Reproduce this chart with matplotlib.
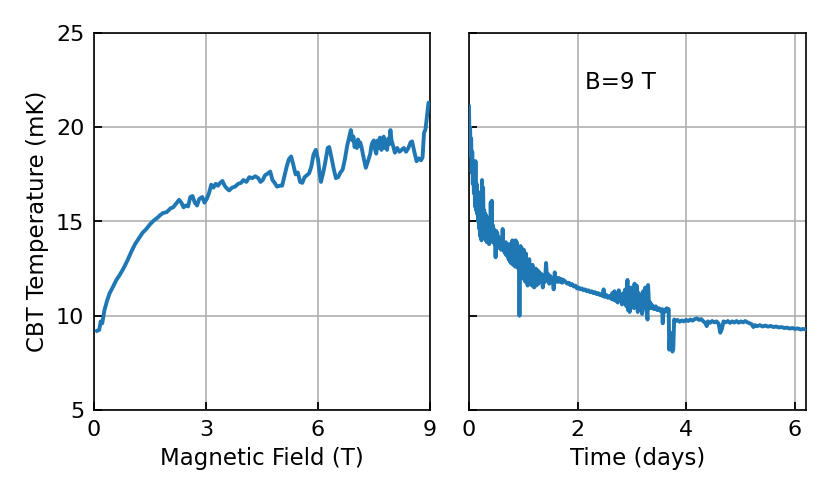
import matplotlib
matplotlib.use("Agg")
import matplotlib.pyplot as plt

# Left panel: CBT temperature vs magnetic field
field_T = [0.08, 0.14, 0.18, 0.22, 0.28, 0.35, 0.42, 0.5, 0.6, 0.7, 0.8, 0.9, 1.0, 1.1, 1.2, 1.3,
           1.4, 1.5, 1.6, 1.7, 1.78, 1.85, 1.95, 2.05, 2.12, 2.2, 2.28, 2.34, 2.4, 2.46, 2.52, 2.58,
           2.64, 2.7, 2.76, 2.82, 2.9, 2.96, 3.02, 3.08, 3.14, 3.2, 3.26, 3.32, 3.38, 3.44, 3.5,
           3.56, 3.62, 3.7, 3.78, 3.86, 3.94, 4.0, 4.08, 4.16, 4.24, 4.32, 4.4, 4.46, 4.52, 4.58,
           4.66, 4.72, 4.78, 4.84, 4.9, 4.98, 5.04, 5.1, 5.16, 5.22, 5.28, 5.34, 5.4, 5.46, 5.52,
           5.58, 5.64, 5.7, 5.76, 5.82, 5.88, 5.94, 6.0, 6.04, 6.08, 6.14, 6.2, 6.26, 6.3, 6.36,
           6.42, 6.48, 6.54, 6.6, 6.66, 6.72, 6.78, 6.84,
           6.88, 6.92, 6.95, 6.98, 7.01, 7.04, 7.07, 7.1, 7.13, 7.16, 7.22, 7.28,
           7.34, 7.4, 7.43, 7.46, 7.5, 7.53, 7.56, 7.6, 7.63, 7.66, 7.7, 7.73,
           7.76, 7.79, 7.82, 7.85, 7.88, 7.91, 7.94, 7.97, 8.0, 8.06, 8.12, 8.18,
           8.24, 8.3, 8.36, 8.42, 8.48, 8.52, 8.58, 8.64, 8.7, 8.76, 8.8, 8.84,
           8.88, 8.92, 8.96, 9.0]
temp_field_mK = [9.2, 9.25, 9.7, 9.6, 10.3, 10.8, 11.2, 11.5, 11.9, 12.2, 12.55, 12.95, 13.4, 13.8,
                 14.1, 14.4, 14.6, 14.85, 15.05, 15.2, 15.35, 15.45, 15.5, 15.7, 15.75, 15.95, 16.15,
                 16.0, 15.75, 15.85, 15.8, 16.3, 16.35, 16.0, 15.85, 16.2, 16.3, 16.0, 16.2, 16.5,
                 16.95, 16.8, 17.0, 16.9, 17.05, 17.15, 16.9, 16.75, 16.65, 16.8, 16.85, 17.0, 17.05,
                 17.2, 17.1, 17.35, 17.3, 17.4, 17.3, 17.1, 17.2, 17.45, 17.55, 17.65, 17.2, 17.05,
                 16.85, 16.9, 16.9, 17.4, 17.9, 18.3, 18.45, 18.0, 17.5, 17.6, 17.1, 17.05, 17.35,
                 17.45, 17.55, 17.9, 18.55, 18.8, 18.3, 17.6, 17.1, 17.6, 18.2, 18.9, 18.95, 18.4,
                 17.8, 17.3, 17.35, 17.6, 17.75, 18.3, 19.0, 19.5,
                 19.85, 19.3, 19.5, 18.95, 19.2, 18.9, 19.35, 19.0, 19.2, 19.0, 18.4, 17.85,
                 18.2, 18.6, 19.0, 19.2, 19.3, 18.8, 18.6, 19.3, 18.9, 19.45, 18.8, 19.1,
                 19.5, 18.9, 19.2, 18.8, 19.4, 19.1, 19.85, 19.3, 19.1, 18.65, 18.9, 18.7,
                 18.8, 18.9, 18.7, 18.9, 19.2, 19.25, 18.7, 18.2, 18.35, 18.25, 18.4, 19.7,
                 19.9, 20.6, 21.3, 21.3]

# Right panel: CBT temperature vs time at B = 9 T
time_days = [0.00, 0.01, 0.02, 0.03, 0.04, 0.05, 0.06, 0.07, 0.08, 0.09, 0.10, 0.11, 0.12, 0.13,
             0.14, 0.15, 0.16, 0.17, 0.18, 0.19, 0.20, 0.21, 0.22, 0.23, 0.24, 0.25, 0.26, 0.27,
             0.28, 0.29, 0.30, 0.31, 0.32, 0.33, 0.34, 0.35, 0.36, 0.37, 0.38, 0.39, 0.40, 0.41,
             0.42, 0.43, 0.44, 0.45, 0.46, 0.47, 0.48, 0.49, 0.50, 0.51, 0.52, 0.53, 0.54, 0.55,
             0.56, 0.57, 0.58, 0.59, 0.60, 0.61, 0.62, 0.63, 0.64, 0.65, 0.66, 0.67, 0.68, 0.69,
             0.70, 0.71, 0.72, 0.73, 0.74, 0.75, 0.76, 0.77, 0.78, 0.79, 0.80, 0.81, 0.82, 0.83,
             0.84, 0.85, 0.86, 0.87, 0.88, 0.89, 0.90, 0.91, 0.92, 0.93, 0.94, 0.95, 0.96, 0.97,
             0.98, 0.99, 1.00, 1.01, 1.02, 1.03, 1.04, 1.05, 1.06, 1.07, 1.08, 1.09, 1.10, 1.11,
             1.12, 1.13, 1.14, 1.15, 1.16, 1.17, 1.18, 1.19, 1.20, 1.21, 1.22, 1.23, 1.24, 1.25,
             1.26, 1.27, 1.28, 1.30, 1.32, 1.34, 1.36, 1.38, 1.40, 1.42, 1.44, 1.46, 1.48, 1.50,
             1.52, 1.54, 1.56, 1.58, 1.60, 1.62, 1.64, 1.66, 1.68, 1.70, 1.72, 1.74,
             1.78, 1.81, 1.84, 1.87, 1.90, 1.93, 1.96, 1.99, 2.02, 2.05, 2.08, 2.11, 2.14, 2.17,
             2.20, 2.23, 2.26, 2.29, 2.32, 2.35, 2.38, 2.41, 2.44, 2.46, 2.48, 2.50, 2.53, 2.56,
             2.59, 2.62, 2.64, 2.66, 2.68, 2.70, 2.72, 2.74, 2.76, 2.78, 2.80, 2.82, 2.84, 2.86,
             2.88, 2.90, 2.92, 2.93, 2.94, 2.96, 2.98, 3.00, 3.02, 3.04, 3.05, 3.07, 3.09, 3.11,
             3.13, 3.15, 3.17, 3.19, 3.21, 3.23, 3.25, 3.27, 3.29, 3.30, 3.32, 3.34, 3.36, 3.38,
             3.41, 3.44, 3.47, 3.50, 3.53, 3.56, 3.57, 3.58, 3.61, 3.64, 3.66, 3.68, 3.685, 3.69,
             3.71, 3.73, 3.75, 3.765, 3.78, 3.80, 3.84, 3.88, 3.92, 3.96, 4.00, 4.04, 4.08, 4.12,
             4.16, 4.20, 4.24, 4.28, 4.32, 4.36, 4.38, 4.40, 4.44, 4.48, 4.52, 4.56, 4.60, 4.63,
             4.66, 4.69, 4.73, 4.77, 4.81, 4.85, 4.89, 4.93, 4.97, 5.01, 5.05, 5.09, 5.13, 5.17,
             5.21, 5.24, 5.27, 5.31, 5.36, 5.41, 5.46, 5.51, 5.56, 5.61, 5.66, 5.71, 5.76, 5.81,
             5.86, 5.91, 5.96, 6.01, 6.06, 6.11, 6.16, 6.19]
temp_time_mK = [21.1, 19.0, 20.0, 18.5, 19.4, 17.6, 18.7, 17.0, 18.2, 16.5, 17.8, 15.8, 18.2, 15.6,
                17.0, 15.4, 16.6, 15.0, 16.2, 14.6, 16.0, 14.2, 15.8, 14.0, 17.2, 14.4, 16.8, 14.3,
                15.6, 14.6, 15.4, 14.0, 15.3, 13.9, 15.1, 14.1, 15.0, 13.8, 14.7, 13.9, 16.0, 14.2,
                16.1, 14.0, 14.8, 13.9, 14.6, 13.8, 14.4, 13.1, 14.5, 13.7, 14.4, 13.6, 14.2, 13.7,
                14.0, 13.6, 14.1, 13.5, 13.9, 13.6, 14.6, 13.5, 13.9, 13.4, 13.8, 13.3, 13.9, 13.2,
                13.7, 13.3, 13.8, 13.0, 13.6, 12.9, 13.8, 12.8, 13.5, 13.0, 14.0, 12.7, 13.9, 12.9,
                13.5, 12.6, 14.0, 12.8, 13.9, 12.7, 13.5, 12.5, 13.2, 10.0, 12.9, 13.7, 12.3, 13.6,
                12.2, 13.1, 12.0, 13.5, 11.9, 12.8, 11.8, 13.3, 12.1, 12.6, 11.6, 12.9, 11.9, 13.0,
                11.7, 12.6, 11.8, 12.4, 11.6, 12.7, 11.9, 12.5, 11.5, 12.3, 11.7, 12.5, 11.6, 12.2,
                11.8, 12.4, 11.7, 12.3, 11.9, 12.2, 11.5, 12.1, 11.8, 12.8, 11.9, 12.2, 11.7, 12.1,
                11.8, 12.0, 11.4, 12.3, 11.8, 12.0, 11.8, 12.0, 11.8, 11.95, 11.75, 11.9,
                11.8, 11.7, 11.75, 11.62, 11.68, 11.55, 11.6, 11.45, 11.5, 11.4, 11.45, 11.35, 11.4,
                11.3, 11.35, 11.25, 11.3, 11.2, 11.25, 11.15, 11.2, 11.1, 11.15, 11.05, 11.4, 11.0,
                11.1, 10.95, 11.05, 10.9, 11.2, 10.85, 11.3, 10.8, 11.0, 10.7, 11.35, 10.8, 11.1,
                10.6, 11.2, 10.7, 11.4, 10.5, 11.9, 10.3, 11.3, 10.2, 11.5, 10.6, 11.4, 10.4, 11.7,
                10.5, 11.6, 10.2, 11.2, 10.5, 11.0, 10.1, 11.3, 10.4, 11.5, 10.3, 9.8, 11.63, 10.4,
                10.7, 10.4, 10.55, 10.35, 10.5, 10.3, 10.4, 10.25, 10.35, 9.6, 10.3, 10.2, 10.4,
                10.25, 10.35, 9.2, 8.2, 9.1, 8.3, 8.1, 8.25, 9.8, 9.7, 9.78, 9.68, 9.75, 9.7, 9.78,
                9.72, 9.8, 9.74, 9.82, 9.86, 9.78, 9.82, 9.7, 9.6, 9.45, 9.7, 9.62, 9.72, 9.65, 9.7,
                9.58, 9.1, 9.3, 9.7, 9.65, 9.72, 9.62, 9.7, 9.64, 9.72, 9.63, 9.7, 9.65, 9.72, 9.65,
                9.6, 9.55, 9.4, 9.5, 9.45, 9.5, 9.43, 9.48, 9.42, 9.46, 9.4, 9.43, 9.38, 9.4, 9.35,
                9.37, 9.32, 9.35, 9.3, 9.33, 9.27, 9.3, 9.28]

field_ticks = [0, 3, 6, 9]
time_ticks = [0, 2, 4, 6]
temp_ticks = [5, 10, 15, 20, 25]

plt.rcParams['font.family'] = ['DejaVu Sans']

W, H = 830, 498
fig = plt.figure(figsize=(W / 100, H / 100), dpi=100)
ax1 = fig.add_axes([94 / W, (H - 410) / H, 336 / W, 377 / H])
ax2 = fig.add_axes([469 / W, (H - 410) / H, 337 / W, 377 / H], sharey=ax1)

color = '#1f77b4'
ax1.plot(field_T, temp_field_mK, color=color, lw=2.8, zorder=3)
ax2.plot(time_days, temp_time_mK, color=color, lw=2.8, zorder=3)

ax1.set_xlim(0, 9)
ax1.set_ylim(5, 25)
ax1.set_xticks(field_ticks)
ax1.set_yticks(temp_ticks)
ax2.set_xlim(0, 6.21)
ax2.set_xticks(time_ticks)

label_fs = 16.5
ax1.set_xlabel('Magnetic Field (T)', fontsize=label_fs, labelpad=5)
ax1.set_ylabel('CBT Temperature (mK)', fontsize=label_fs, labelpad=5)
ax2.set_xlabel('Time (days)', fontsize=label_fs, labelpad=5)
ax2.text(2.13, 22.4, 'B=9 T', ha='left', va='center', fontsize=label_fs)

for ax in (ax1, ax2):
    ax.grid(True, color='#b0b0b0', lw=1.2, zorder=0)
    ax.set_axisbelow(True)
    ax.tick_params(direction='in', length=6, width=1.3, labelsize=16, pad=7)
    for s in ax.spines.values():
        s.set_linewidth(1.2)
ax2.tick_params(labelleft=False)

fig.savefig('out.png', dpi=100)
